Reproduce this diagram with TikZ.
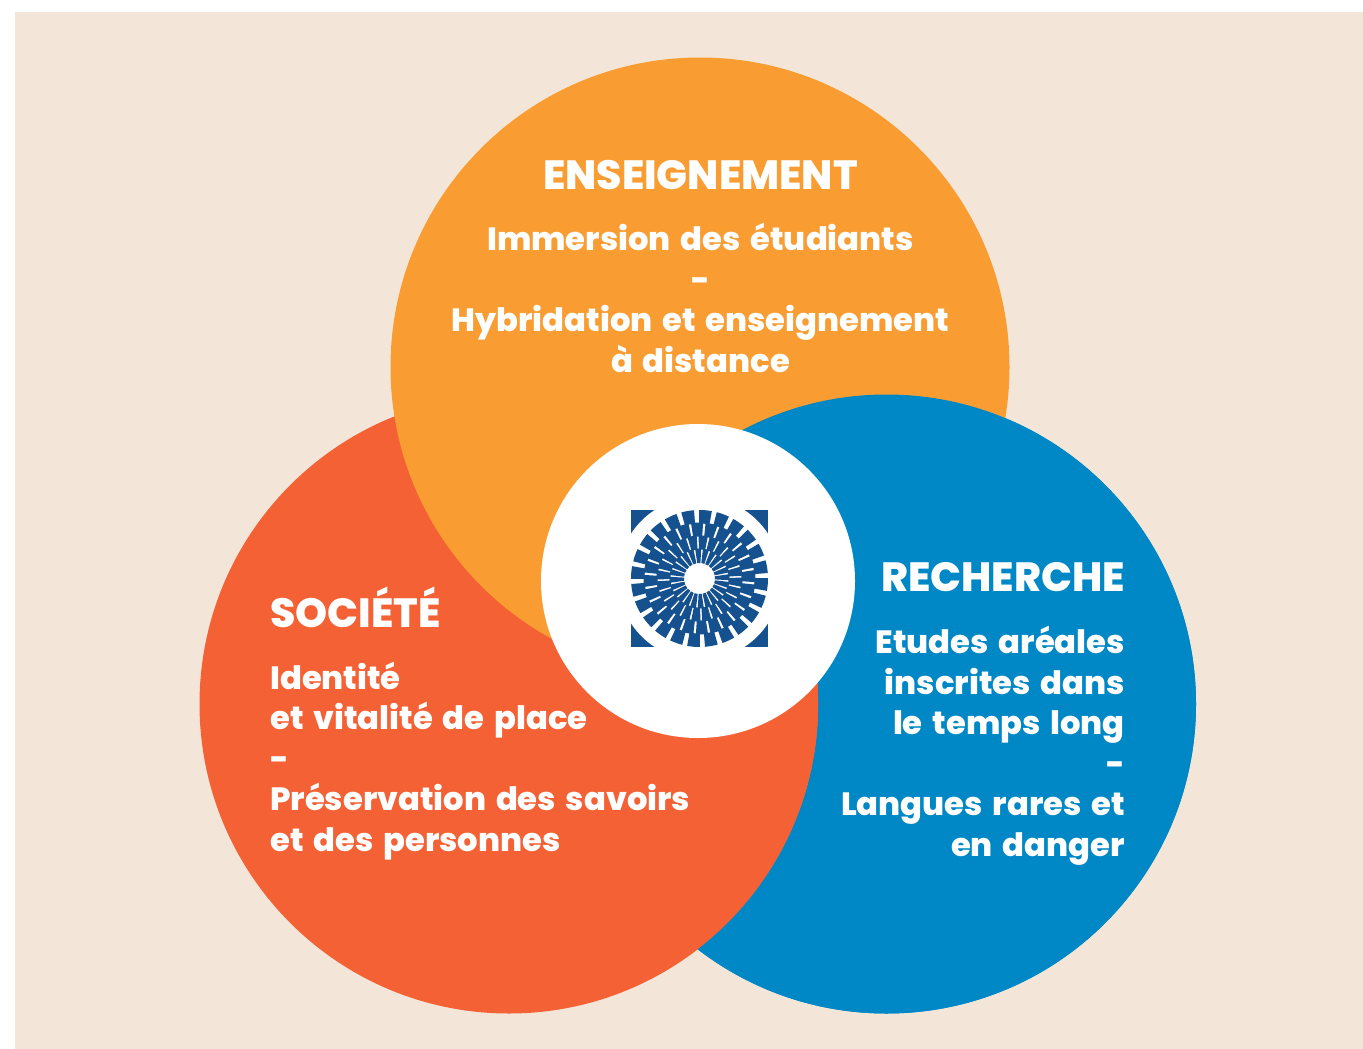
\documentclass[tikz,border=0pt]{standalone}
\usepackage{fontspec}
\setmainfont{Poppins}[BoldFont={Poppins ExtraBold},BoldFeatures={WordSpace=1.6}]
\definecolor{bgc}{HTML}{F3E6D9}
\definecolor{orangec}{HTML}{F99D33}
\definecolor{redc}{HTML}{F46135}
\definecolor{bluec}{HTML}{0087C6}
\definecolor{logoc}{HTML}{15508F}
\tikzset{
  head/.style={text=white,font=\bfseries\fontsize{40.8}{40.8}\selectfont,inner sep=0pt},
  body/.style={text=white,font=\bfseries\fontsize{32.2}{40.5}\selectfont,inner sep=0pt}
}
\newcommand{\RingBlock}[4]{% r1 r2 angle halfwidth
  \fill[logoc] (#3+#4:#1)--(#3+#4:#2) arc[start angle=#3+#4,end angle=#3-#4,radius=#2]--(#3-#4:#1) arc[start angle=#3-#4,end angle=#3+#4,radius=#1]--cycle;
}
\begin{document}
\begin{tikzpicture}[x=1pt,y=-1pt]
\useasboundingbox (0,0) rectangle (1363,1049);
\fill[bgc] (15,12) rectangle (1363,1049);
\coordinate (O) at (700,367);
\coordinate (R) at (509,704);
\coordinate (B) at (886.5,704);
\coordinate (W) at (698,581);
\coordinate (L) at (699.5,578.5);
\fill[bluec] (B) circle[radius=309.5];
\fill[redc] (R) circle[radius=309.5];
\fill[orangec] (O) circle[radius=309.5];
\begin{scope}[even odd rule]
\clip (0,0) rectangle (1363,1049) (R) circle[radius=309.5];
\fill[bluec] (B) circle[radius=309.5];
\end{scope}
\fill[white] (W) circle[radius=157];
\begin{scope}[shift={(L)},y=1pt]
 \begin{scope}[even odd rule]
 \clip (-100,-100) rectangle (100,100) (0,0) circle[radius=82];
 \fill[logoc] (-68.5,-68.5) rectangle (68.5,68.5);
 \end{scope}
 \foreach \i in {0,...,23}{
   \pgfmathsetmacro\a{\i*15+10}
   \pgfmathsetmacro\b{\i*15+2.5}
   \RingBlock{55}{68.5}{\a}{5.4}
   \RingBlock{42}{56}{\b}{6.2}
   \RingBlock{29}{43}{\a}{6.2}
   \RingBlock{15.5}{30}{\b}{5.8}
 }
\end{scope}
\node[head,anchor=base] (t1) at (700.5,189) {ENSEIGNEMENT};
\node[body,anchor=base,align=center] (b1) at (700.5,372) {Immersion des étudiants\\-\\Hybridation et enseignement\\à distance};
\node[head,anchor=base east] (t2) at (1125,591) {RECHERCHE};
\node[body,anchor=base east,align=right] (b2) at (1125,856) {Etudes aréales\\inscrites dans\\le temps long\\-\\Langues rares et\\en danger};
\node[head,anchor=base west] (t3) at (270,627) {SOCIÉTÉ};
\node[body,anchor=base west,align=left] (b3) at (270,851) {Identité\\et vitalité de place\\-\\Préservation des savoirs\\et des personnes};
\end{tikzpicture}
\end{document}
